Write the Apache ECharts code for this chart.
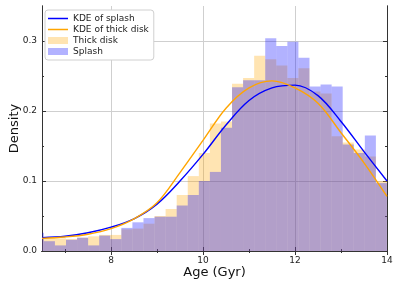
<!DOCTYPE html>
<html>
<head>
<meta charset="utf-8">
<script src="https://cdn.jsdelivr.net/npm/echarts@6/dist/echarts.min.js"></script>
<style>html,body{margin:0;padding:0;background:#fff;}#c{width:400px;height:286px;}</style>
</head>
<body>
<div id="c"></div>
<script>
// Histogram definition (bin edges: binStart + i*binWidth)
var binStart = 6.30;
var binWidth = 0.2406;
var thickDisk = [0.017,0.019,0.018,0.017,0.019,0.021,0.023,0.023,0.031,0.032,0.039,0.050,0.060,0.080,0.107,0.140,
                 0.182,0.185,0.239,0.247,0.279,0.274,0.265,0.247,0.261,0.228,0.225,0.164,0.155,0.145,0.135,0.100];
var splash    = [0.026,0.014,0.008,0.016,0.019,0.008,0.022,0.017,0.033,0.041,0.047,0.049,0.049,0.065,0.080,0.100,
                 0.113,0.176,0.234,0.244,0.244,0.304,0.293,0.299,0.276,0.235,0.238,0.235,0.152,0.140,0.165,0.097];
// KDE curves
var kdeX      = [6.5,7,7.5,8,8.5,9,9.5,10,10.5,11,11.5,12,12.5,13,13.5,14];
var splashKde = [0.019,0.021,0.026,0.034,0.046,0.067,0.100,0.138,0.180,0.215,0.233,0.237,0.222,0.185,0.142,0.100];
var thickKde  = [0.018,0.020,0.024,0.032,0.046,0.069,0.112,0.158,0.204,0.233,0.243,0.233,0.211,0.169,0.126,0.078];
// Axis ticks
var xMajor = [8,10,12,14];
var xMinor = [7,9,11,13];
var yMajor = [0,0.1,0.2,0.3];
var yMinor = [0.05,0.15,0.25];

var X_MIN = 6.5, X_MAX = 14, Y_MIN = 0, Y_MAX = 0.35;

function histData(vals){
  return vals.map(function(v,i){ return [binStart + i*binWidth, binStart + (i+1)*binWidth, v]; });
}
function pairs(xs, ys){ return xs.map(function(x,i){ return [x, ys[i]]; }); }

function renderBar(params, api){
  var x0 = Math.max(api.value(0), X_MIN), x1 = Math.min(api.value(1), X_MAX), v = api.value(2);
  var p0 = api.coord([x0, v]);
  var p1 = api.coord([x1, 0]);
  return {type:'rect', shape:{x:p0[0], y:p0[1], width:p1[0]-p0[0], height:p1[1]-p0[1]},
          style:{fill: api.visual('color')}};
}

var font = 'DejaVu Sans';
var frame = {show:true, lineStyle:{color:'#333', width:1}};

function xAx(pos, ticks, len, main){
  return {type:'value', min:X_MIN, max:X_MAX, position:pos, gridIndex:0,
    axisLine: frame,
    axisTick:{show:true, inside:true, length:len, customValues:ticks, lineStyle:{color:'#333'}},
    axisLabel: (main ? {show:true, customValues:ticks, fontSize:9, color:'#222', fontFamily:font, margin:5} : {show:false}),
    splitLine:{show: !!main, lineStyle:{color:'#cfcfcf', width:1}},
    name: main ? 'Age (Gyr)' : '', nameLocation:'middle', nameGap:15, nameMoveOverlap:false,
    nameTextStyle:{fontSize:13, color:'#111', fontFamily:font, verticalAlign:'top'}
  };
}
function yAx(pos, ticks, len, main){
  return {type:'value', min:Y_MIN, max:Y_MAX, position:pos, gridIndex:0,
    axisLine: frame,
    axisTick:{show:true, inside:true, length:len, customValues:ticks, lineStyle:{color:'#333'}},
    axisLabel: (main ? {show:true, customValues:ticks, fontSize:9, color:'#222', fontFamily:font, margin:5,
                        formatter:function(v){ return v.toFixed(1); }} : {show:false}),
    splitLine:{show: !!main, lineStyle:{color:'#cfcfcf', width:1}},
    name: main ? 'Density' : '', nameLocation:'middle', nameGap:21, nameMoveOverlap:false,
    nameTextStyle:{fontSize:13, color:'#111', fontFamily:font, verticalAlign:'bottom'}
  };
}

var lineIcon = 'path://M0,0L0.01,0L0,0.01Z M20,7L19.99,7L20,6.99Z M0,2.8L20,2.8L20,4.2L0,4.2Z';

var chart = echarts.init(document.getElementById('c'), null, {renderer:'canvas'});
chart.setOption({
  animation:false,
  backgroundColor:'#fff',
  grid:{left:42, right:13, top:6, bottom:35, containLabel:false, outerBoundsMode:'none'},
  xAxis:[ xAx('bottom', xMajor, 4, true), xAx('bottom', xMinor, 2, false),
          xAx('top', xMajor, 4, false), xAx('top', xMinor, 2, false) ],
  yAxis:[ yAx('left', yMajor, 4, true), yAx('left', yMinor, 2, false),
          yAx('right', yMajor, 4, false), yAx('right', yMinor, 2, false) ],
  legend:{
    orient:'vertical', left:45, top:10, padding:[4,5,4,3], itemGap:2,
    itemWidth:20, itemHeight:7,
    backgroundColor:'#fff', borderColor:'#d0d0d0', borderWidth:1, borderRadius:3,
    textStyle:{fontSize:9, color:'#222', fontFamily:font},
    data:[{name:'KDE of splash', icon:lineIcon},{name:'KDE of thick disk', icon:lineIcon},
          {name:'Thick disk', icon:'rect'},{name:'Splash', icon:'rect'}]
  },
  series:[
    {name:'Thick disk', type:'custom', renderItem:renderBar, data:histData(thickDisk),
     encode:{x:[0,1], y:2}, itemStyle:{color:'rgba(255,165,0,0.3)'}, z:1, clip:true},
    {name:'Splash', type:'custom', renderItem:renderBar, data:histData(splash),
     encode:{x:[0,1], y:2}, itemStyle:{color:'rgba(0,0,255,0.3)'}, z:2, clip:true},
    {name:'KDE of splash', type:'line', data:pairs(kdeX, splashKde), smooth:0.35,
     symbol:'none', lineStyle:{color:'#0000ff', width:1.4}, itemStyle:{color:'#0000ff'}, z:3},
    {name:'KDE of thick disk', type:'line', data:pairs(kdeX, thickKde), smooth:0.35,
     symbol:'none', lineStyle:{color:'#ffa500', width:1.4}, itemStyle:{color:'#ffa500'}, z:4}
  ]
});
</script>
</body>
</html>
